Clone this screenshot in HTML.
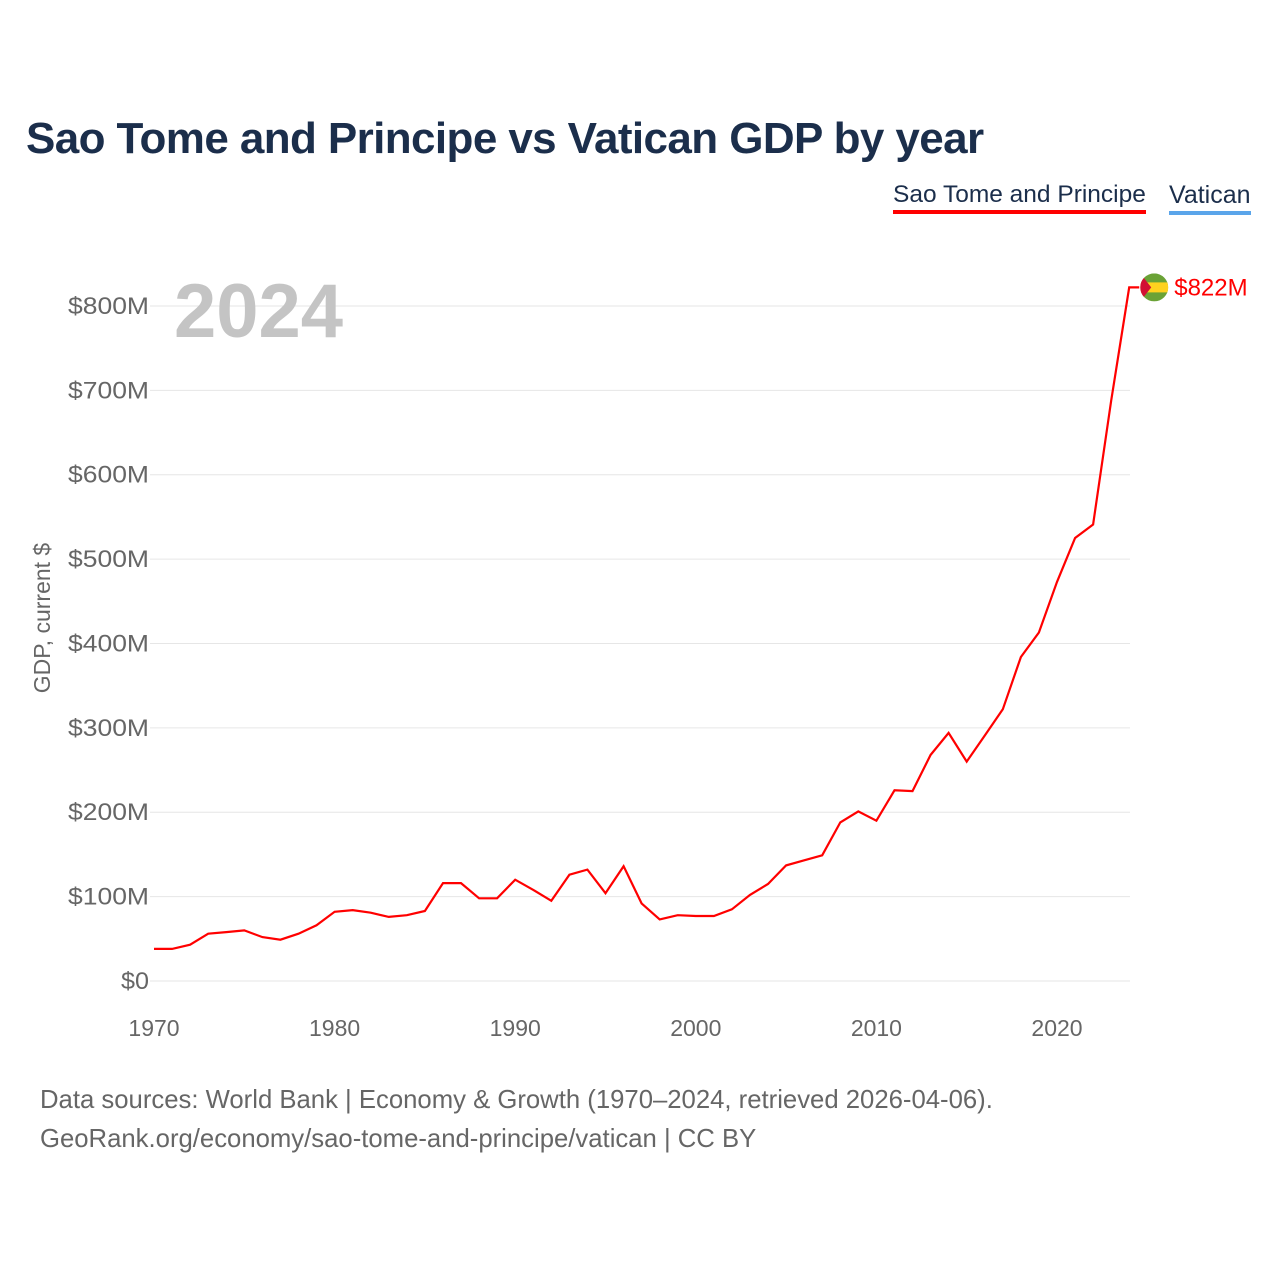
<!DOCTYPE html>
<html><head><meta charset="utf-8">
<style>
html,body{margin:0;padding:0;background:#fff;}
body{width:1280px;height:1280px;position:relative;font-family:"Liberation Sans",sans-serif;overflow:hidden;}
.t{position:absolute;white-space:nowrap;}
</style></head>
<body>
<div class="t" style="left:26px;top:114px;font-size:44px;font-weight:bold;color:#1b2e4b;letter-spacing:-0.6px;">Sao Tome and Principe vs Vatican GDP by year</div>
<div class="t" style="left:893px;top:181px;font-size:24.5px;color:#1b2e4b;border-bottom:4px solid #ff0000;padding-bottom:1px;">Sao Tome and Principe</div>
<div class="t" style="left:1169px;top:181px;font-size:25px;color:#1b2e4b;border-bottom:4px solid #5aa5ea;padding-bottom:1px;">Vatican</div>
<svg width="1280" height="1280" style="position:absolute;left:0;top:0">
<g id="grid"></g><g id="yt"></g><g id="xt"></g>
<text x="50" y="618" transform="rotate(-90 50 618)" text-anchor="middle" font-size="23" fill="#666" font-family="Liberation Sans,sans-serif">GDP, current $</text>
<text x="174" y="337" font-size="76" font-weight="bold" fill="#c4c4c4" font-family="Liberation Sans,sans-serif">2024</text>
<path id="line" fill="none" stroke="#ff0000" stroke-width="2.2"/>
<g id="endm"></g>
</svg>
<div class="t" style="left:40px;top:1081px;font-size:25.7px;color:#666;line-height:39px;">Data sources: World Bank | Economy &amp; Growth (1970–2024, retrieved 2026-04-06).<br>GeoRank.org/economy/sao-tome-and-principe/vatican | CC BY</div>
<script>
const years=[];for(let y=1970;y<=2024;y++)years.push(y);
const gdp=[38,38,43,56,58,60,52,49,56,66,82,84,81,76,78,83,116,116,98,98,120,108,95,126,132,104,136,92,73,78,77,77,85,102,115,137,143,149,188,201,190,226,225,268,294,260,291,322,384,413,473,525,541,688,822];
const yTicks=[0,100,200,300,400,500,600,700,800];
const yLabels=["$0","$100M","$200M","$300M","$400M","$500M","$600M","$700M","$800M"];
const xTicks=[1970,1980,1990,2000,2010,2020];
const X=y=>154+(y-1970)*18.06;
const Y=v=>981-v*0.8438;
const ns="http://www.w3.org/2000/svg";
function mk(t,a,p){const e=document.createElementNS(ns,t);for(const k in a)e.setAttribute(k,a[k]);p.appendChild(e);return e;}
const g=document.getElementById('grid'),yt=document.getElementById('yt'),xt=document.getElementById('xt');
yTicks.forEach((v,i)=>{
 const l=mk('line',{x1:150,x2:1130,y1:Y(v),y2:Y(v),stroke:'#e6e6e6','stroke-width':1},g);
 
 
 const t=mk('text',{x:149,y:Y(v)+8,'text-anchor':'end','font-size':24,fill:'#666','font-family':'Liberation Sans,sans-serif','textLength':v===0?28:81,'lengthAdjust':'spacingAndGlyphs'},yt);
 t.textContent=yLabels[i];
 
 
});
xTicks.forEach(v=>{
 const t=mk('text',{x:X(v),y:1036,'text-anchor':'middle','font-size':23,fill:'#666','font-family':'Liberation Sans,sans-serif'},xt);
 t.textContent=v;
 
 
});
let d='';years.forEach((y,i)=>{d+=(i?'L':'M')+X(y).toFixed(1)+','+Y(gdp[i]).toFixed(1);});
const lx=X(years[years.length-1]),ly=Y(gdp[gdp.length-1]);
d+='L'+(lx+10)+','+ly;
document.getElementById('line').setAttribute('d',d);
const em=document.getElementById('endm');
mk('clipPath',{id:'fc'},em).appendChild(document.createElementNS(ns,'circle'));
const cc=document.querySelector('#fc circle');cc.setAttribute('cx',lx+25);cc.setAttribute('cy',ly);cc.setAttribute('r',14);
const fg=mk('g',{'clip-path':'url(#fc)'},em);
const c=mk('rect',{x:lx+11,y:ly-14,width:28,height:28,fill:'#6aa236'},fg);


mk('rect',{x:lx+11,y:ly-5,width:28,height:10,fill:'#ffd21f'},fg);
mk('path',{d:`M${lx+11},${ly-14}L${lx+22},${ly}L${lx+11},${ly+14}Z`,fill:'#d21034'},fg);
const vl=mk('text',{x:lx+45,y:ly+8,'font-size':24,fill:'#ff0000','font-family':'Liberation Sans,sans-serif'},em);
vl.textContent='$'+gdp[gdp.length-1]+'M';


</script>
</body></html>
